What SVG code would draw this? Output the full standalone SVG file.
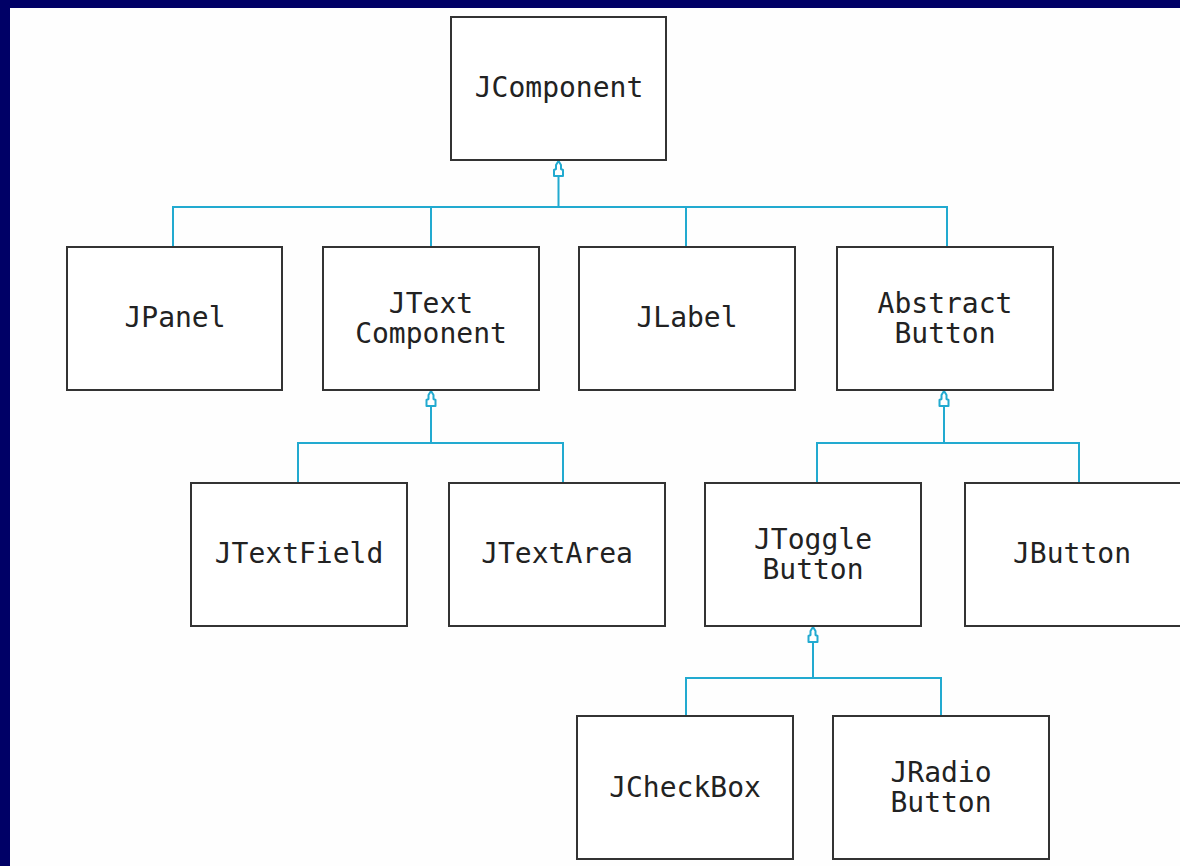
<svg xmlns="http://www.w3.org/2000/svg" width="1180" height="866" viewBox="0 0 1180 866">
<style>
.box{fill:#fff;stroke:#333;stroke-width:2}
.t{font-family:"DejaVu Sans Mono","Liberation Mono",monospace;font-size:28px;fill:#222;text-anchor:middle}
.c{fill:none;stroke:#22aad0;stroke-width:2}
</style>
<defs>
<marker id="inh" markerUnits="userSpaceOnUse" orient="auto" refX="0" refY="0" markerWidth="20" markerHeight="20" overflow="visible">
<path d="M0,0 L-4,-2.5 L-8,-2.5 L-9,-4.5 L-15,-4.5 L-15,4.5 L-9,4.5 L-8,2.5 L-4,2.5 Z" fill="#fff" stroke="#22aad0" stroke-width="2" stroke-linejoin="round"/>
</marker>
</defs>
<rect x="0" y="0" width="1180" height="866" fill="#000066"/>
<rect x="10" y="8" width="1170" height="858" fill="#fefefe"/>
<g id="connectors">
<path class="c" d="M173,246 V207 H947 V246 M431,207 V246 M686,207 V246"/>
<path class="c" d="M558.5,207 V161" marker-end="url(#inh)"/>
<path class="c" d="M298,482 V443 H563 V482"/>
<path class="c" d="M431,443 V391" marker-end="url(#inh)"/>
<path class="c" d="M817,482 V443 H1079 V482"/>
<path class="c" d="M944,443 V391" marker-end="url(#inh)"/>
<path class="c" d="M686,716 V678 H941 V716"/>
<path class="c" d="M813,678 V627" marker-end="url(#inh)"/>
</g>
<g id="JComponent"><rect class="box" x="451" y="17" width="215" height="143"/><text class="t" x="559" y="97">JComponent</text></g>
<g id="JPanel"><rect class="box" x="67" y="247" width="215" height="143"/><text class="t" x="175" y="327">JPanel</text></g>
<g id="JTextComponent"><rect class="box" x="323" y="247" width="216" height="143"/><text class="t" x="431" y="313">JText</text><text class="t" x="431" y="343">Component</text></g>
<g id="JLabel"><rect class="box" x="579" y="247" width="216" height="143"/><text class="t" x="687" y="327">JLabel</text></g>
<g id="AbstractButton"><rect class="box" x="837" y="247" width="216" height="143"/><text class="t" x="945" y="313">Abstract</text><text class="t" x="945" y="343">Button</text></g>
<g id="JTextField"><rect class="box" x="191" y="483" width="216" height="143"/><text class="t" x="299" y="563">JTextField</text></g>
<g id="JTextArea"><rect class="box" x="449" y="483" width="216" height="143"/><text class="t" x="557" y="563">JTextArea</text></g>
<g id="JToggleButton"><rect class="box" x="705" y="483" width="216" height="143"/><text class="t" x="813" y="549">JToggle</text><text class="t" x="813" y="579">Button</text></g>
<g id="JButton"><rect class="box" x="965" y="483" width="216" height="143"/><text class="t" x="1072" y="563">JButton</text></g>
<g id="JCheckBox"><rect class="box" x="577" y="716" width="216" height="143"/><text class="t" x="685" y="797">JCheckBox</text></g>
<g id="JRadioButton"><rect class="box" x="833" y="716" width="216" height="143"/><text class="t" x="941" y="782">JRadio</text><text class="t" x="941" y="812">Button</text></g>
</svg>
